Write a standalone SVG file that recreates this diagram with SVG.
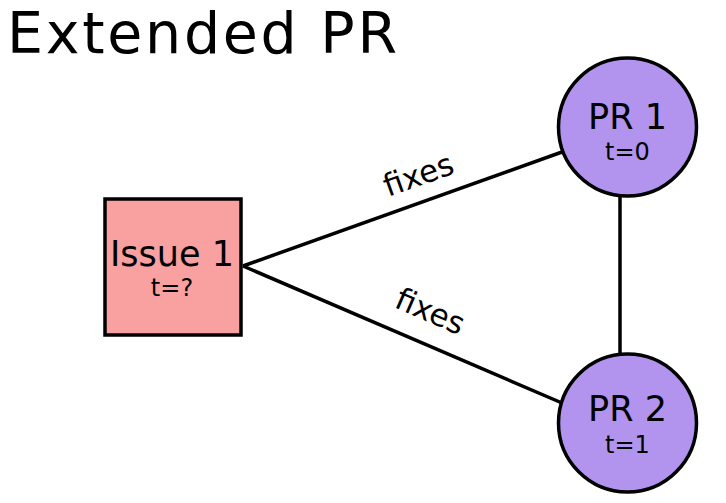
<svg xmlns="http://www.w3.org/2000/svg" width="726" height="503" viewBox="0 0 726 503">
<style>
text{font-family:"DejaVu Sans","Noto Sans",sans-serif;fill:#000}
.node{stroke:#000;stroke-width:3.5}
.edge{stroke:#000;stroke-width:3.5;fill:none}
.big{font-size:35px;text-anchor:middle}
.small{font-size:24px;text-anchor:middle}
.lbl{font-size:31px;text-anchor:middle}
</style>
<rect width="726" height="503" fill="#fff"/>
<text x="7" y="53" font-size="57" textLength="390" lengthAdjust="spacing">Extended PR</text>
<g id="connectors">
<line class="edge" x1="243" y1="266" x2="562" y2="152"/>
<line class="edge" x1="243" y1="266" x2="562" y2="403"/>
<line class="edge" x1="620" y1="196" x2="620" y2="355"/>
<text class="lbl" transform="translate(422,185) rotate(-19.6)">fixes</text>
<text class="lbl" transform="translate(426,321) rotate(23.4)">fixes</text>
</g>
<g id="issue1">
<rect class="node" x="105" y="199" width="136" height="136" fill="#f9a0a0"/>
<text class="big" x="172" y="266">Issue 1</text>
<text class="small" x="172" y="296">t=?</text>
</g>
<g id="pr1">
<circle class="node" cx="627.5" cy="127" r="69" fill="#b294ef"/>
<text class="big" x="627.5" y="129">PR 1</text>
<text class="small" x="627.5" y="160">t=0</text>
</g>
<g id="pr2">
<circle class="node" cx="627.5" cy="423" r="69" fill="#b294ef"/>
<text class="big" x="627.5" y="421">PR 2</text>
<text class="small" x="627.5" y="453">t=1</text>
</g>
</svg>
